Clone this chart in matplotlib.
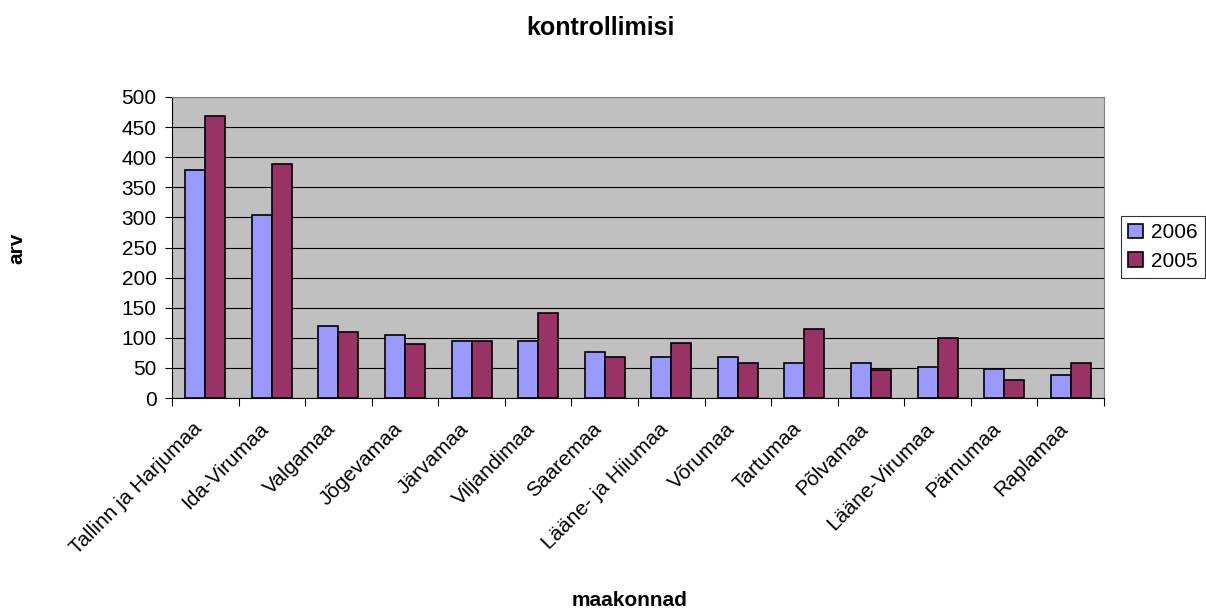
import matplotlib.pyplot as plt
import matplotlib.transforms as mtransforms
import numpy as np

plt.rcParams['font.family'] = ['Liberation Sans', 'DejaVu Sans']

maakonnad = ['Tallinn ja Harjumaa', 'Ida-Virumaa', 'Valgamaa', 'Jõgevamaa', 'Järvamaa',
             'Viljandimaa', 'Saaremaa', 'Lääne- ja Hiiumaa', 'Võrumaa', 'Tartumaa',
             'Põlvamaa', 'Lääne-Virumaa', 'Pärnumaa', 'Raplamaa']
v2006 = [378, 304, 120, 104, 95, 95, 77, 68, 68, 58, 58, 52, 49, 39]
v2005 = [469, 389, 109, 90, 95, 142, 68, 91, 58, 115, 47, 99, 30, 58]

fig = plt.figure(figsize=(12.06, 6.1), dpi=100)
ax = fig.add_axes([172 / 1206, 1 - 398 / 610, 932 / 1206, 301 / 610])
ax.set_facecolor('#c0c0c0')

x = np.arange(len(maakonnad))
w = 0.3
ax.bar(x - w / 2, v2006, w, color='#9999ff', edgecolor='black', linewidth=1.2, label='2006', zorder=3)
ax.bar(x + w / 2, v2005, w, color='#993366', edgecolor='black', linewidth=1.2, label='2005', zorder=3)

ax.set_xlim(-0.5, len(maakonnad) - 0.5)
ax.set_ylim(0, 500)
ax.set_yticks(range(0, 501, 50))
ax.yaxis.grid(True, color='black', linewidth=0.8, zorder=0)
ax.set_axisbelow(True)

ax.set_xticks(np.arange(-0.5, len(maakonnad), 1))
ax.set_xticklabels([])
ax.set_xticks(x, minor=True)
ax.set_xticklabels(maakonnad, minor=True, rotation=45, ha='right', va='center',
                   rotation_mode='anchor', fontsize=15)
ax.tick_params(axis='x', which='minor', length=0, pad=20)
ax.tick_params(axis='x', which='major', length=6, direction='out')
ax.tick_params(axis='y', length=5, labelsize=15, pad=6)

shift = mtransforms.ScaledTranslation(-6 / 100, 0, fig.dpi_scale_trans)
for lbl in ax.get_xticklabels(minor=True):
    lbl.set_transform(lbl.get_transform() + shift)

for s in ['top', 'right']:
    ax.spines[s].set_color('#808080')
for s in ['left', 'bottom']:
    ax.spines[s].set_color('black')

fig.text(600 / 1206, 1 - 28 / 610, 'kontrollimisi', ha='center', va='center', fontsize=18, fontweight='bold')
fig.text(17 / 1206, 1 - 248 / 610, 'arv', ha='center', va='center', rotation=90, fontsize=15, fontweight='bold')
fig.text(630 / 1206, 1 - 601 / 610, 'maakonnad', ha='center', va='center', fontsize=15, fontweight='bold')

leg = ax.legend(loc='center left', bbox_to_anchor=(1121 / 1206, 1 - 247 / 610), bbox_transform=fig.transFigure,
                fontsize=15, frameon=True, fancybox=False, edgecolor='black', handlelength=0.7,
                handleheight=0.7, handletextpad=0.4, borderpad=0.35, labelspacing=0.45, borderaxespad=0)
leg.get_frame().set_linewidth(0.8)

fig.savefig('out.png', dpi=100, facecolor='white')
